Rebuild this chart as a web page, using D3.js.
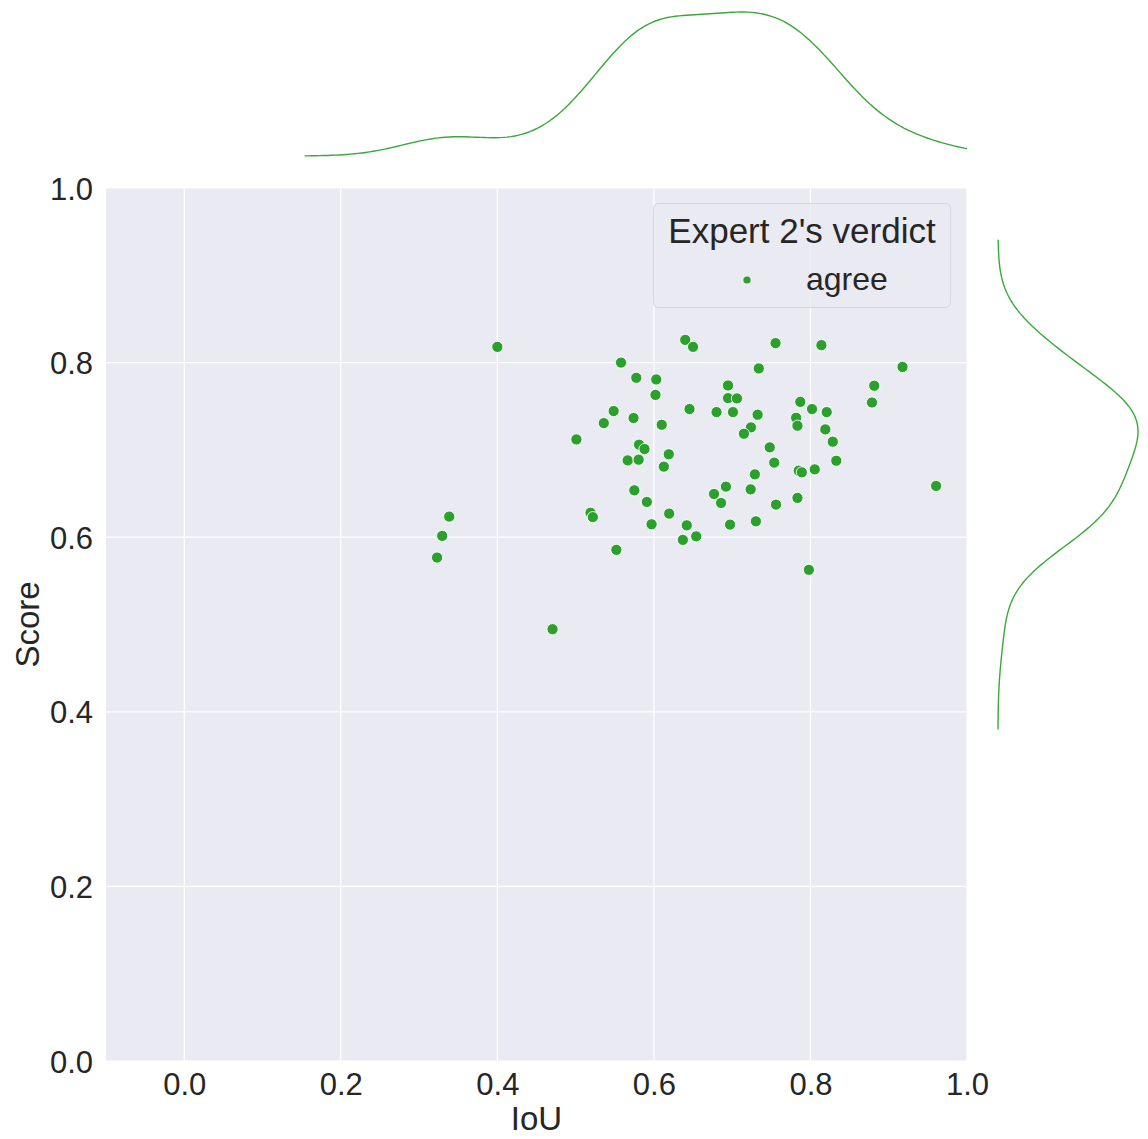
<!DOCTYPE html>
<html>
<head>
<meta charset="utf-8">
<script src="https://cdn.jsdelivr.net/npm/d3@7"></script>
<style>
  html, body { margin: 0; padding: 0; background: #ffffff; }
  svg { display: block; font-family: "Liberation Sans", Arial, sans-serif; }
</style>
</head>
<body>
<svg id="chart" width="1148" height="1139"></svg>
<script>
// IoU and Score for each sample judged by Expert 2 (all "agree")
const iou = [
  0.400, 0.640, 0.650, 0.558, 0.5775, 0.603, 0.602, 0.5486, 0.6455, 0.536,
  0.574, 0.610, 0.501, 0.581, 0.588, 0.619, 0.5665, 0.5805, 0.6127, 0.575,
  0.591, 0.6195, 0.519, 0.522, 0.3385, 0.3295, 0.323, 0.597, 0.642, 0.637,
  0.654, 0.552, 0.4705, 0.7554, 0.814, 0.9176, 0.734, 0.6947, 0.8815, 0.6947,
  0.7061, 0.8786, 0.787, 0.680, 0.701, 0.7325, 0.802, 0.8208, 0.7817, 0.7834,
  0.724, 0.715, 0.819, 0.8285, 0.748, 0.833, 0.7537, 0.785, 0.789, 0.8055,
  0.9605, 0.729, 0.692, 0.6768, 0.7236, 0.6858, 0.756, 0.7834, 0.6973, 0.7303,
  0.798
];
const score = [
  0.818, 0.826, 0.818, 0.800, 0.7826, 0.7807, 0.763, 0.7445, 0.7468, 0.7307,
  0.7365, 0.7288, 0.712, 0.706, 0.701, 0.695, 0.688, 0.6888, 0.6808, 0.6537,
  0.6404, 0.627, 0.628, 0.623, 0.6236, 0.6015, 0.5767, 0.6148, 0.6136, 0.5969,
  0.601, 0.5855, 0.4946, 0.8223, 0.820, 0.795, 0.7933, 0.7738, 0.7735, 0.7593,
  0.7590, 0.7543, 0.755, 0.7433, 0.7433, 0.7403, 0.7468, 0.7433, 0.7368, 0.7277,
  0.7258, 0.7185, 0.7235, 0.7094, 0.7029, 0.6876, 0.6854, 0.6762, 0.6743, 0.6777,
  0.6587, 0.672, 0.6579, 0.6495, 0.6548, 0.6392, 0.6373, 0.645, 0.6144, 0.6182,
  0.5626
];
const verdictLevels = ["agree"];
const xTicks = [0.0, 0.2, 0.4, 0.6, 0.8, 1.0];
const yTicks = [0.0, 0.2, 0.4, 0.6, 0.8, 1.0];

const green = "#2ca02c";
const ink = "#262626";
const svg = d3.select("#chart");

// joint axes
const L = 106, R = 967, T = 188, B = 1061;
const x = d3.scaleLinear().domain([-0.1, 1.0]).range([L, R]);
const y = d3.scaleLinear().domain([0.0, 1.0]).range([B, T]);

svg.append("rect").attr("x", L).attr("y", T).attr("width", R - L).attr("height", B - T)
  .attr("fill", "#eaeaf2");

const grid = svg.append("g");
grid.selectAll("line.vx").data(xTicks).join("line")
  .attr("x1", d => x(d)).attr("x2", d => x(d)).attr("y1", T).attr("y2", B)
  .attr("stroke", "#ffffff").attr("stroke-width", 1.2);
grid.selectAll("line.hy").data(yTicks).join("line")
  .attr("x1", L).attr("x2", R).attr("y1", d => y(d)).attr("y2", d => y(d))
  .attr("stroke", "#ffffff").attr("stroke-width", 1.2);

// axes: labels only, no spines or tick marks
const fmt = d3.format(".1f");
const xAxis = svg.append("g").attr("transform", `translate(0,${B})`)
  .call(d3.axisBottom(x).tickValues(xTicks).tickFormat(fmt).tickSize(0).tickPadding(12));
const yAxis = svg.append("g").attr("transform", `translate(${L},0)`)
  .call(d3.axisLeft(y).tickValues(yTicks).tickFormat(fmt).tickSize(0).tickPadding(13));
[xAxis, yAxis].forEach(a => {
  a.select(".domain").remove();
  a.selectAll("text").attr("fill", ink).style("font-size", "31px")
    .style("font-family", "Liberation Sans, Arial, sans-serif");
});
yAxis.selectAll("text").attr("dy", "0.36em");
xAxis.selectAll("text").attr("dy", "0.72em");

svg.append("text").attr("x", (L + R) / 2).attr("y", 1130).attr("text-anchor", "middle")
  .attr("fill", ink).style("font-size", "33px").text("IoU");
svg.append("text").attr("transform", `translate(39,${(T + B) / 2}) rotate(-90)`)
  .attr("text-anchor", "middle").attr("fill", ink).style("font-size", "33px").text("Score");

// scatter
const pts = iou.map((v, i) => ({ x: v, y: score[i] }));
svg.append("g").selectAll("circle").data(pts).join("circle")
  .attr("cx", d => x(d.x)).attr("cy", d => y(d.y)).attr("r", 5.6)
  .attr("fill", green).attr("stroke", "#ffffff").attr("stroke-width", 0.9);

// legend
const lg = svg.append("g");
lg.append("rect").attr("x", 653.5).attr("y", 203.5).attr("width", 297).attr("height", 104)
  .attr("rx", 5).attr("fill", "#eaeaf2").attr("fill-opacity", 0.8)
  .attr("stroke", "#d6d6dc").attr("stroke-width", 1);
lg.append("text").attr("x", 802).attr("y", 243).attr("text-anchor", "middle")
  .attr("fill", ink).style("font-size", "35px").text("Expert 2's verdict");
lg.selectAll("circle").data(verdictLevels).join("circle")
  .attr("cx", 747).attr("cy", 280).attr("r", 3.6).attr("fill", green);
lg.selectAll("text.lab").data(verdictLevels).join("text").attr("class", "lab")
  .attr("x", 806).attr("y", 290).attr("fill", ink).style("font-size", "32px").text(d => d);

// Gaussian KDE, Scott's rule scaled by `adjust`, evaluated from min-3bw to max+3bw
function kde(values, adjust) {
  const n = values.length;
  const sd = d3.deviation(values);
  const bw = sd * Math.pow(n, -0.2) * adjust;
  const lo = d3.min(values) - 3 * bw, hi = d3.max(values) + 3 * bw;
  const steps = 200;
  const out = [];
  for (let k = 0; k <= steps; k++) {
    const t = lo + (hi - lo) * k / steps;
    let s = 0;
    for (const v of values) { const z = (t - v) / bw; s += Math.exp(-0.5 * z * z); }
    out.push([t, s / (n * bw * Math.sqrt(2 * Math.PI))]);
  }
  return out;
}

const kdeStroke = "#3aa83a";

// top marginal: IoU density
const kx = kde(iou, 1.0);
const topD = d3.scaleLinear().domain([0, d3.max(kx, d => d[1])]).range([156, 12]);
svg.append("clipPath").attr("id", "clipTop").append("rect")
  .attr("x", L).attr("y", 0).attr("width", R - L).attr("height", 180);
svg.append("path").datum(kx).attr("clip-path", "url(#clipTop)")
  .attr("fill", "none").attr("stroke", kdeStroke).attr("stroke-width", 1.4)
  .attr("d", d3.line().x(d => x(d[0])).y(d => topD(d[1])));

// right marginal: Score density
const ky = kde(score, 1.25);
const rightD = d3.scaleLinear().domain([0, d3.max(ky, d => d[1])]).range([998, 1138]);
svg.append("clipPath").attr("id", "clipRight").append("rect")
  .attr("x", 980).attr("y", T).attr("width", 168).attr("height", B - T);
svg.append("path").datum(ky).attr("clip-path", "url(#clipRight)")
  .attr("fill", "none").attr("stroke", kdeStroke).attr("stroke-width", 1.4)
  .attr("d", d3.line().x(d => rightD(d[1])).y(d => y(d[0])));
</script>
</body>
</html>
